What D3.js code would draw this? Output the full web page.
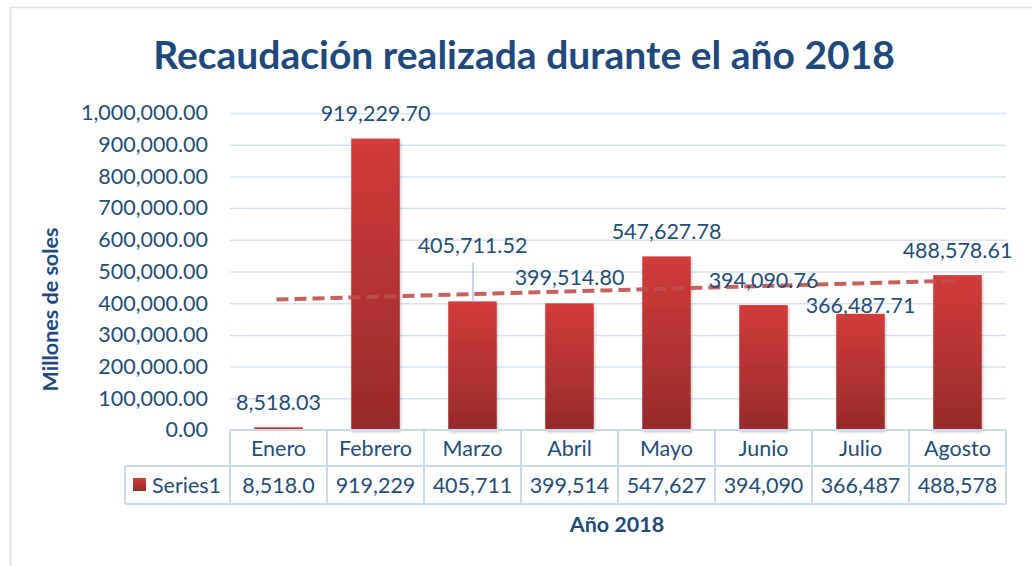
<!DOCTYPE html>
<html>
<head>
<meta charset="utf-8">
<script src="https://cdn.jsdelivr.net/npm/d3@7"></script>
<style>
  body { margin: 0; background: #fff; }
  svg { display: block; font-family: Lato, "Open Sans", sans-serif; }
</style>
</head>
<body>
<div id="chart"></div>
<script>
const months = ['Enero', 'Febrero', 'Marzo', 'Abril', 'Mayo', 'Junio', 'Julio', 'Agosto'];
const values = [8518.03, 919229.70, 405711.52, 399514.80, 547627.78, 394090.76, 366487.71, 488578.61];
const tableText = ['8,518.0', '919,229', '405,711', '399,514', '547,627', '394,090', '366,487', '488,578'];
const yTicks = [0, 100000, 200000, 300000, 400000, 500000, 600000, 700000, 800000, 900000, 1000000];

const W = 1032, H = 566;
const plot = { left: 230, right: 1006, top: 113, bottom: 430 };
const textColor = '#1f4e79';
const gridColor = '#d6e2f1';
const fs = 21.5;

const svg = d3.select('#chart').append('svg').attr('width', W).attr('height', H);

// gradient for bars
const defs = svg.append('defs');
const grad = defs.append('linearGradient').attr('id', 'barGrad')
  .attr('x1', 0).attr('y1', 0).attr('x2', 0).attr('y2', 1);
grad.append('stop').attr('offset', '0%').attr('stop-color', '#d23c3a');
grad.append('stop').attr('offset', '100%').attr('stop-color', '#962a2a');
defs.append('filter').attr('id', 'shadow').append('feDropShadow')
  .attr('dx', 1).attr('dy', 2).attr('stdDeviation', 1.5).attr('flood-opacity', 0.25);

// outer frame (only top and left edges fall inside the picture)
svg.append('path').attr('d', 'M10.5,566V7.5H1032')
  .attr('fill', 'none').attr('stroke', '#d9e3f0').attr('stroke-width', 1.5);

const x = d3.scaleBand().domain(months).range([plot.left, plot.right]).paddingInner(0).paddingOuter(0);
const y = d3.scaleLinear().domain([0, 1000000]).range([plot.bottom, plot.top]);
const fmt = d3.format(',.2f');

// title
svg.append('text').attr('x', 524).attr('y', 69).attr('text-anchor', 'middle')
  .attr('font-size', 39).attr('font-weight', 'bold').attr('fill', '#1f497d')
  .text('Recaudación realizada durante el año 2018');

// grid
svg.append('g').selectAll('line').data(yTicks.slice(1)).join('line')
  .attr('x1', plot.left).attr('x2', plot.right)
  .attr('y1', d => y(d) + 0.5).attr('y2', d => y(d) + 0.5)
  .attr('stroke', gridColor).attr('stroke-width', 1.5);

// y axis labels
const yAxis = svg.append('g').attr('transform', `translate(${plot.left - 22},0)`)
  .call(d3.axisLeft(y).tickValues(yTicks).tickFormat(fmt).tickSize(0).tickPadding(0));
yAxis.select('.domain').remove();
yAxis.selectAll('text').attr('font-size', fs).attr('fill', textColor)
  .attr('font-family', 'Lato, sans-serif');

// bars
svg.append('g').selectAll('rect').data(values).join('rect')
  .attr('x', (d, i) => x(months[i]) + x.bandwidth() * 0.25)
  .attr('width', x.bandwidth() * 0.5)
  .attr('y', d => y(d))
  .attr('height', d => y(0) - y(d))
  .attr('fill', 'url(#barGrad)')
  .attr('filter', 'url(#shadow)');

// linear trendline (least squares over month index)
const n = values.length;
const xs = d3.range(1, n + 1);
const mx = d3.mean(xs), my = d3.mean(values);
const slope = d3.sum(xs, (v, i) => (v - mx) * (values[i] - my)) / d3.sum(xs, v => (v - mx) ** 2);
const icpt = my - slope * mx;
const cx = i => x(months[i]) + x.bandwidth() / 2;
svg.append('line')
  .attr('x1', cx(0) - 2).attr('x2', cx(n - 1) - 2)
  .attr('y1', y(icpt + slope * 1)).attr('y2', y(icpt + slope * n))
  .attr('stroke', '#c0504d').attr('stroke-width', 4).attr('stroke-opacity', 0.9)
  .attr('stroke-dasharray', '12,6');

// data labels (vertical lift above bar top, some moved by hand in the original)
const labelLift = [25, 26, 56, 26, 25, 25, 9, 25];
svg.append('g').selectAll('text').data(values).join('text')
  .attr('x', (d, i) => cx(i))
  .attr('y', (d, i) => y(d) - labelLift[i] + 8)
  .attr('text-anchor', 'middle').attr('font-size', fs).attr('fill', textColor)
  .text(d => fmt(d));
// leader line for Marzo label
svg.append('line')
  .attr('x1', cx(2) + 0.5).attr('x2', cx(2) + 0.5)
  .attr('y1', y(values[2]) - 39).attr('y2', y(values[2]))
  .attr('stroke', '#9bb7dd').attr('stroke-width', 1.2);

// data table
const rowH1 = 36, rowH2 = 38;
const tbl = svg.append('g').attr('stroke', '#c9daf0').attr('stroke-width', 2).attr('fill', 'none');
tbl.append('line').attr('x1', 125).attr('x2', plot.right).attr('y1', plot.bottom + rowH1).attr('y2', plot.bottom + rowH1);
tbl.append('line').attr('x1', 125).attr('x2', plot.right).attr('y1', plot.bottom + rowH1 + rowH2).attr('y2', plot.bottom + rowH1 + rowH2);
tbl.append('line').attr('x1', plot.left).attr('x2', plot.right).attr('y1', plot.bottom).attr('y2', plot.bottom);
tbl.append('line').attr('x1', 125).attr('x2', 125).attr('y1', plot.bottom + rowH1).attr('y2', plot.bottom + rowH1 + rowH2);
tbl.selectAll('line.v').data(months.concat(['end'])).join('line').attr('class', 'v')
  .attr('x1', (d, i) => plot.left + i * x.bandwidth()).attr('x2', (d, i) => plot.left + i * x.bandwidth())
  .attr('y1', plot.bottom).attr('y2', plot.bottom + rowH1 + rowH2);

svg.append('g').selectAll('text').data(months).join('text')
  .attr('x', (d, i) => cx(i)).attr('y', plot.bottom + 26)
  .attr('text-anchor', 'middle').attr('font-size', fs).attr('fill', textColor).text(d => d);
svg.append('g').selectAll('text').data(tableText).join('text')
  .attr('x', (d, i) => cx(i)).attr('y', plot.bottom + rowH1 + 27)
  .attr('text-anchor', 'middle').attr('font-size', fs).attr('fill', textColor).text(d => d);

// legend key
svg.append('rect').attr('x', 133).attr('y', 478).attr('width', 13).attr('height', 13).attr('fill', 'url(#barGrad)');
svg.append('text').attr('x', 152).attr('y', 493).attr('font-size', fs).attr('fill', textColor).text('Series1');

// axis titles
svg.append('text').attr('transform', `translate(58,${(plot.top + plot.bottom) / 2 + 38}) rotate(-90)`)
  .attr('text-anchor', 'middle').attr('font-size', 21.5).attr('font-weight', 'bold').attr('fill', '#1f497d')
  .text('Millones de soles');
svg.append('text').attr('x', 617).attr('y', 532).attr('text-anchor', 'middle')
  .attr('font-size', 21.5).attr('font-weight', 'bold').attr('fill', '#1f497d')
  .text('Año 2018');
</script>
</body>
</html>
